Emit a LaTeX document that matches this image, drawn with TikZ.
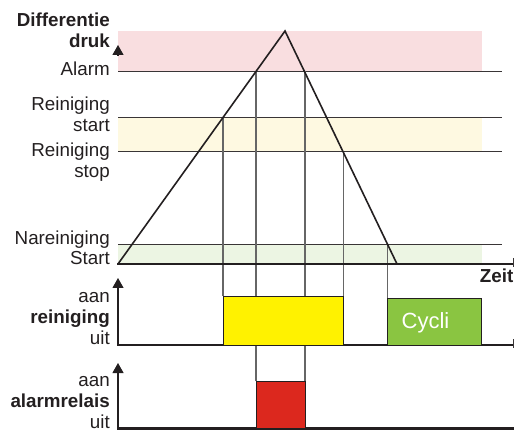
\documentclass[tikz,border=0pt]{standalone}
\usepackage{fontspec}
\setmainfont{Liberation Sans}
\usepackage{tikz}
\usetikzlibrary{arrows.meta,positioning}
\definecolor{alarmpink}{RGB}{249,222,224}
\definecolor{startyellow}{RGB}{254,249,225}
\definecolor{naregreen}{RGB}{236,245,227}
\definecolor{pulseyellow}{RGB}{255,242,0}
\definecolor{cycligreen}{RGB}{138,197,65}
\definecolor{relaisred}{RGB}{220,40,30}
\definecolor{inkgray}{RGB}{35,31,32}

\begin{document}
\begin{tikzpicture}[
  x=1pt, y=-1pt,
  level/.style={draw=inkgray!90, line width=0.9pt},
  guide/.style={draw=black!60, line width=1.1pt},
  timeaxis/.style={draw=inkgray, line width=2.4pt},
  curve/.style={draw=inkgray, line width=1.6pt},
  yarrow/.style={draw=inkgray, -{Triangle[width=11pt,length=10pt]}, line width=1.1pt},
  pulse/.style={draw=inkgray, line width=0.8pt},
  lbl/.style={anchor=base east, inner sep=0pt, align=right, text=inkgray,
              font=\fontsize{18.8}{21}\selectfont},
  boldlbl/.style={lbl, font=\fontsize{18.8}{21}\selectfont\bfseries}
]
\useasboundingbox (0,0) rectangle (514,430);

% zones
\fill[alarmpink] (118,31) rectangle (482,71);
\fill[startyellow] (118,117.5) rectangle (482,151.5);
\fill[naregreen] (118,244) rectangle (482,264);

% drempels
\draw[level] (118,71) -- (502,71);
\draw[level] (118,117.5) -- (502,117.5);
\draw[level] (118,151.5) -- (502,151.5);
\draw[level] (118,244) -- (502,244);

% hulplijnen
\draw[guide] (223,117.5) -- (223,296.5);
\draw[guide] (256,71) -- (256,381);
\draw[guide] (305,71) -- (305,381);
\draw[guide] (343.5,151.5) -- (343.5,296.5);
\draw[guide] (387.5,244) -- (387.5,298);

% assen
\draw[yarrow] (118,56) -- (118,45);
\draw[timeaxis] (117,264) -- (514,264);
\draw[level] (513,258) -- (513,267);
\draw[yarrow] (118,345) -- (118,278);
\draw[timeaxis] (117,345) -- (514,345);
\draw[level] (513,339) -- (513,348);
\draw[yarrow] (118,428.5) -- (118,363);
\draw[timeaxis] (117,428.5) -- (514,428.5);

% drukverloop
\coordinate (rise) at (118,264);
\coordinate (peak) at (285,31);
\coordinate (fall) at (397,264);
\draw[curve] (rise) -- (peak) -- (fall);

% pulsen
\draw[pulse, fill=pulseyellow] (223,296.5) rectangle (343.5,345);
\draw[pulse, fill=cycligreen] (387.5,298) rectangle (481.5,345);
\draw[pulse, fill=relaisred] (256,381) rectangle (305,428.5);
\node[anchor=base west, inner sep=0pt, text=white, font=\fontsize{22}{26}\selectfont]
  (cycli) at (401.5,328.3) {Cycli};

% labels (base = laatste regel)
\node[boldlbl] (druk) at (110,47.7) {Differentie\\druk};
\node[lbl] (alarm) at (110,76) {Alarm};
\node[lbl] (start) at (110,132) {Reiniging\\start};
\node[lbl] (stop) at (110,177.7) {Reiniging\\stop};
\node[lbl, font=\fontsize{18.8}{20}\selectfont] (nare) at (110,265) {Nareiniging\\Start};
\node[boldlbl] (zeit) at (513.5,282.7) {Zeit};
\node[lbl] (rein) at (110,344.5) {aan\\\textbf{reiniging}\\uit};
\node[lbl] (relais) at (110,428) {aan\\\textbf{alarmrelais}\\uit};
\end{tikzpicture}
\end{document}
